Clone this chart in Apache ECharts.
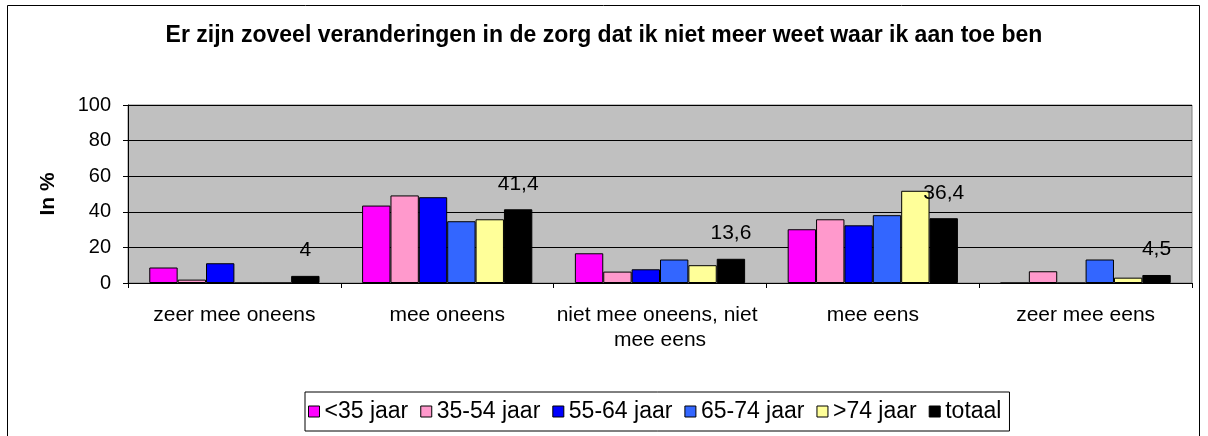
<!DOCTYPE html>
<html>
  <head>
    <meta charset="utf-8">
    <title>Er zijn zoveel veranderingen in de zorg</title>
    <style>
      html, body { margin: 0; padding: 0; background: #fff; }
    </style>
  </head>
  <body>
    <div id="main" style="width: 1208px;height:436px;"></div>

  <script src="https://cdn.jsdelivr.net/npm/echarts@6/dist/echarts.min.js"></script>
  <script type="text/javascript">
  // data
  var categories = ['zeer mee oneens', 'mee oneens', 'niet mee oneens, niet mee eens', 'mee eens', 'zeer mee eens'];
  var groups = ['<35 jaar', '35-54 jaar', '55-64 jaar', '65-74 jaar', '>74 jaar', 'totaal'];
  var colors = ['#FF00FF', '#FF99CC', '#0000FF', '#3366FF', '#FFFF99', '#000000'];
  var under35 = [8.7, 43.5, 16.7, 30.2, 0];
  var age35to54 = [1.9, 49.2, 6.4, 35.8, 6.6];
  var age55to64 = [11.1, 48.2, 7.7, 32.4, 0];
  var age65to74 = [0, 34.7, 13.2, 38.1, 13.2];
  var over74 = [0, 35.8, 10, 51.8, 3];
  var totaal = [4, 41.4, 13.6, 36.4, 4.5];
  var yTicks = [0, 20, 40, 60, 80, 100];

  var values = [under35, age35to54, age55to64, age65to74, over74, totaal];

  var myChart = echarts.init(document.getElementById('main'));

  var series = groups.map(function (name, i) {
    var s = {
      name: name,
      type: 'bar',
      data: values[i],
      barGap: 0,
      barCategoryGap: '20%',
      itemStyle: {
        color: colors[i],
        borderColor: '#000',
        borderWidth: 1
      }
    };
    if (name == 'totaal') {
      s.label = {
        show: true,
        position: 'top',
        distance: 15,
        color: '#000',
        fontFamily: 'Arial',
        fontSize: 21,
        formatter: function (p) { return String(p.value).replace('.', ','); }
      };
    }
    return s;
  });

  var option = {
    backgroundColor: '#fff',
    animation: false,
    title: {
      text: 'Er zijn zoveel veranderingen in de zorg dat ik niet meer weet waar ik aan toe ben',
      left: 'center',
      top: 19,
      textStyle: {
        fontFamily: 'Arial',
        fontWeight: 'bold',
        fontSize: 23,
        color: '#000'
      }
    },
    graphic: [{
      type: 'rect',
      shape: { x: 7.5, y: 5.5, width: 1192, height: 440 },
      style: { fill: 'none', stroke: '#000', lineWidth: 1 },
      silent: true,
      z: -1
    }],
    legend: {
      data: groups,
      left: 305,
      top: 392,
      icon: 'rect',
      itemWidth: 11,
      itemHeight: 11,
      itemGap: 12,
      padding: [8, 8, 8, 3],
      borderColor: '#000',
      borderWidth: 1,
      backgroundColor: '#fff',
      itemStyle: { borderColor: '#000', borderWidth: 1 },
      textStyle: { fontFamily: 'Arial', fontSize: 23, color: '#000' }
    },
    grid: {
      left: 128,
      right: 16,
      top: 105,
      bottom: 153,
      show: true,
      backgroundColor: '#C0C0C0',
      borderColor: '#808080',
      borderWidth: 1
    },
    xAxis: {
      type: 'category',
      data: categories,
      axisLine: { lineStyle: { color: '#000' } },
      axisTick: { show: true, length: 5, lineStyle: { color: '#000' } },
      axisLabel: {
        color: '#000',
        fontFamily: 'Arial',
        fontSize: 21,
        margin: 20,
        lineHeight: 25,
        width: 212,
        overflow: 'break',
        interval: 0
      }
    },
    yAxis: {
      type: 'value',
      min: yTicks[0],
      max: yTicks[yTicks.length - 1],
      interval: 20,
      name: 'In %',
      nameLocation: 'middle',
      nameRotate: 90,
      nameGap: 69,
      nameTextStyle: { fontFamily: 'Arial', fontWeight: 'bold', fontSize: 21, color: '#000' },
      axisLine: { show: true, lineStyle: { color: '#000' } },
      axisTick: { show: true, length: 5, lineStyle: { color: '#000' } },
      axisLabel: { color: '#000', fontFamily: 'Arial', fontSize: 20, margin: 17 },
      splitLine: { lineStyle: { color: '#000', width: 1 } }
    },
    series: series
  };
  myChart.setOption(option);
  </script>
  </body>
</html>
